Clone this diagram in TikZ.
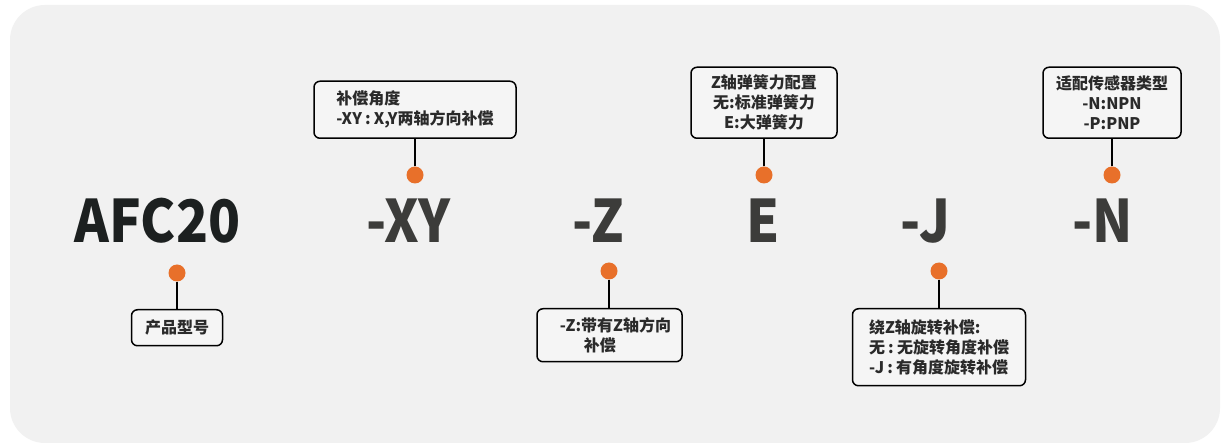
\documentclass[tikz,border=0pt]{standalone}
\usepackage{fontspec}
\setmainfont{Noto Sans CJK SC}
\newfontfamily\codefont{Noto Sans CJK SC}[FakeStretch=0.9]
\newcommand{\cln}{\hspace{0.2em}:\hspace{0.2em}}
\definecolor{pinorange}{HTML}{E8702A}
\definecolor{panelgray}{HTML}{F1F1F1}
\definecolor{boxgray}{HTML}{F5F5F5}
\definecolor{codegray}{HTML}{3C3C3A}
\definecolor{codedark}{HTML}{1C2020}
\definecolor{tagtext}{HTML}{2A2A2A}

\begin{document}
\begin{tikzpicture}[
                    x=1pt, y=-1pt, % one unit is one pixel of the panel, y down
                    every node/.style={font=\bfseries\fontsize{16}{20}\selectfont, text=tagtext},
                    code/.style={font=\codefont\bfseries\fontsize{58.6}{60}\selectfont, text=codegray, inner sep=0pt, anchor=base},
                    pin/.style={circle, fill=pinorange, minimum size=17pt, inner sep=0pt},
                    tagbox/.style={draw=black, line width=1.5pt, rounded corners=6pt, fill=boxgray, inner sep=0pt},
                    stem/.style={line width=2.5pt}
                ]

                \fill[white] (0,0) rectangle (1221,443);
                \useasboundingbox (0,0) rectangle (1221,443);
                \fill[panelgray, rounded corners=35pt] (10,5) rectangle (1220,443);

                % the code letters
                \node[code, text=codedark] (afc) at (157.5,243) {AFC20};
                \node[code] (xy) at (408.5,243) {-XY};
                \node[code] (z) at (598,243) {-Z};
                \node[code] (e) at (763,243) {E};
                \node[code] (j) at (925,243) {-J};
                \node[code] (n) at (1102.5,243) {-N};

                % pins
                \node[pin] (pafc) at (177,273) {};
                \node[pin] (pxy) at (415,175) {};
                \node[pin] (pz) at (609,271) {};
                \node[pin] (pe) at (764,175) {};
                \node[pin] (pj) at (939,271) {};
                \node[pin] (pn) at (1112,175) {};

                % tag boxes
                \node[tagbox, anchor=north, minimum width=91pt, minimum height=36pt] (tafc) at (177,309) {产品型号};
                \node[tagbox, anchor=south, minimum width=202pt, minimum height=57pt, align=left] (txy) at (415,139)
                    {补偿角度\\-XY\cln X,Y两轴方向补偿};
                \node[tagbox, anchor=north, minimum width=145pt, minimum height=53pt, align=left] (tz) at (609.5,308)
                    {\hspace*{12pt}-Z:带有Z轴方向\\\hspace*{12pt}\hspace{1.5em}补偿};
                \node[tagbox, anchor=south, minimum width=146pt, minimum height=71pt, align=center] (te) at (764,139)
                    {Z轴弹簧力配置\\无:标准弹簧力\\E:大弹簧力};
                \node[tagbox, anchor=north, minimum width=173pt, minimum height=77pt, align=left] (tj) at (939,308)
                    {绕Z轴旋转补偿:\\无\cln 无旋转角度补偿\\-J\cln 有角度旋转补偿};
                \node[tagbox, anchor=south, minimum width=138pt, minimum height=71pt, align=center] (tn) at (1112,139)
                    {适配传感器类型\\-N:NPN\\-P:PNP};

                \draw[stem]
                    (pafc) -- (tafc)
                    (pxy) -- (txy)
                    (pz) -- (pz |- tz.north)
                    (pe) -- (te)
                    (pj) -- (tj)
                    (pn) -- (tn);
            \end{tikzpicture}
\end{document}
